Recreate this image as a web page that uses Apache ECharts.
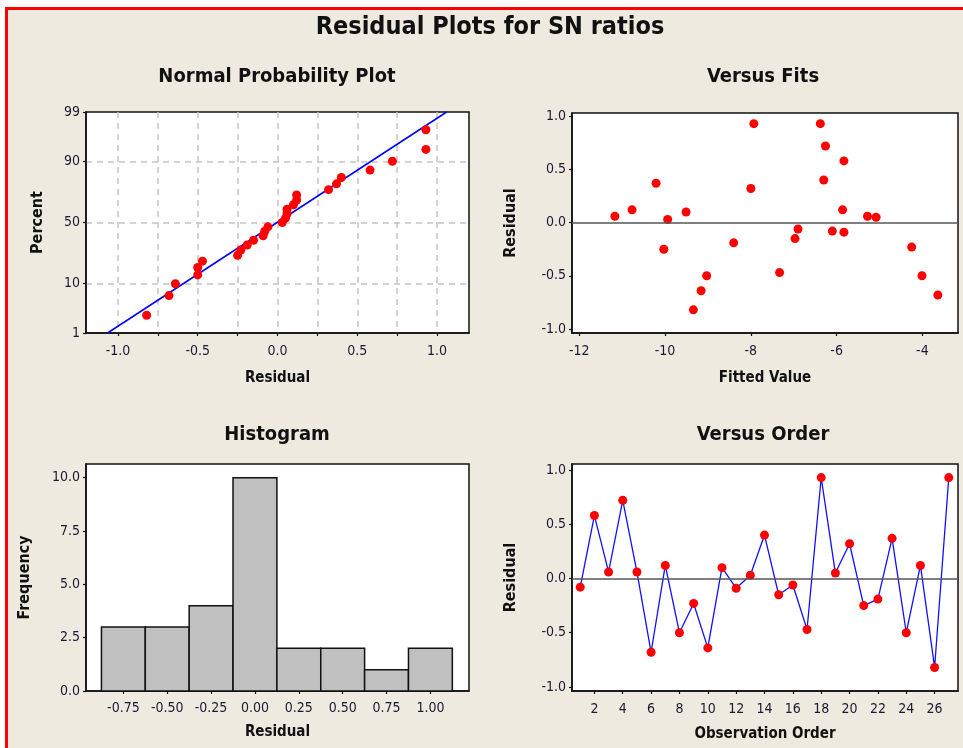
<!DOCTYPE html>
<html>
<head>
<meta charset="utf-8">
<title>Residual Plots for SN ratios</title>
<script src="https://cdn.jsdelivr.net/npm/echarts@6.0.0/dist/echarts.min.js"></script>
<style>
html, body { margin: 0; padding: 0; background: #fff; }
#main { width: 963px; height: 748px; }
</style>
</head>
<body>
<div id="main"></div>
<script>
// residuals in observation order (1..27)
const residuals = [-0.08, 0.58, 0.06, 0.72, 0.06, -0.68, 0.12, -0.50, -0.23, -0.64,
  0.10, -0.09, 0.03, 0.40, -0.15, -0.06, -0.47, 0.93, 0.05, 0.32,
  -0.25, -0.19, 0.37, -0.50, 0.12, -0.82, 0.93]
// fitted values in observation order
const fits = [-6.10, -5.83, -11.17, -6.26, -5.28, -3.64, -10.77, -9.03, -4.25, -9.16,
  -9.51, -5.83, -9.94, -6.30, -6.97, -6.90, -7.33, -7.93, -5.08, -8.00,
  -10.03, -8.40, -10.21, -4.01, -5.86, -9.34, -6.38]
// plotting positions (percent) of the sorted residuals
const probPercent = [2.55, 6.20, 9.85, 13.50, 17.15, 20.80, 24.45, 28.10, 31.75, 35.40,
  39.05, 42.70, 46.35, 50.00, 53.65, 57.30, 60.95, 64.60, 68.25, 71.90,
  75.55, 79.20, 82.85, 86.50, 90.15, 93.80, 97.45]
// fitted normal line end points [residual, percent]
const fitLine = [[-1.065, 1], [1.06, 99]]
const probTicks = [1, 10, 50, 90, 99]
const probXTicks = [-1.0, -0.5, 0.0, 0.5, 1.0]
const probXGrid = [-1.0, -0.75, -0.5, -0.25, 0.0, 0.25, 0.5, 0.75, 1.0]
// histogram
const histBins = [-0.75, -0.50, -0.25, 0.00, 0.25, 0.50, 0.75, 1.00]
const histFreq = [3, 3, 4, 10, 2, 2, 1, 2]
const histYTicks = [0, 2.5, 5, 7.5, 10]
const residTicks = [-1.0, -0.5, 0.0, 0.5, 1.0]
const fitTicks = [-12, -10, -8, -6, -4]
const orderTicks = [2, 4, 6, 8, 10, 12, 14, 16, 18, 20, 22, 24, 26]

const FONT = '"DejaVu Sans Condensed", "Liberation Sans Narrow", "DejaVu Sans", sans-serif'
const BG = '#eeeae0'
const LABEL_COLOR = '#1a1a33'
const BIN_WIDTH = 0.25

// inverse standard normal CDF (probability axis scale)
function probit(p) {
	const a = [-3.969683028665376e+01, 2.209460984245205e+02, -2.759285104469687e+02, 1.383577518672690e+02, -3.066479806614716e+01, 2.506628277459239e+00]
	const b = [-5.447609879822406e+01, 1.615858368580409e+02, -1.556989798598866e+02, 6.680131188771972e+01, -1.328068155288572e+01]
	const c = [-7.784894002430293e-03, -3.223964580411365e-01, -2.400758277161838e+00, -2.549732539343734e+00, 4.374664141464968e+00, 2.938163982698783e+00]
	const d = [7.784695709041462e-03, 3.224671290700398e-01, 2.445134137142996e+00, 3.754408661907416e+00]
	const pl = 0.02425
	let q, r
	if (p < pl) {
		q = Math.sqrt(-2 * Math.log(p))
		return (((((c[0] * q + c[1]) * q + c[2]) * q + c[3]) * q + c[4]) * q + c[5]) / ((((d[0] * q + d[1]) * q + d[2]) * q + d[3]) * q + 1)
	}
	if (p > 1 - pl) {
		q = Math.sqrt(-2 * Math.log(1 - p))
		return -(((((c[0] * q + c[1]) * q + c[2]) * q + c[3]) * q + c[4]) * q + c[5]) / ((((d[0] * q + d[1]) * q + d[2]) * q + d[3]) * q + 1)
	}
	q = p - 0.5
	r = q * q
	return (((((a[0] * r + a[1]) * r + a[2]) * r + a[3]) * r + a[4]) * r + a[5]) * q / (((((b[0] * r + b[1]) * r + b[2]) * r + b[3]) * r + b[4]) * r + 1)
}
const z = pct => probit(pct / 100)
const probZTicks = probTicks.map(z)

const sortedResiduals = residuals.slice().sort((m, n) => m - n)

const axisLine = { show: true, onZero: false, lineStyle: { color: '#111', width: 1.5 } }
const axisTick = (vals) => ({ show: true, length: 3, lineStyle: { color: '#111', width: 1.2 }, customValues: vals })
const axisLabel = (vals, fmt, margin) => ({
	show: true, customValues: vals, color: LABEL_COLOR, fontSize: 14, fontFamily: FONT, margin: margin, formatter: fmt
})
const nameStyle = { color: '#111', fontSize: 15, fontWeight: 'bold', fontFamily: FONT }
const yNameStyle = { color: '#111', fontSize: 16, fontWeight: 'bold', fontFamily: FONT }
const noSplit = { show: false }
const dashedLine = { color: '#c4c4c4', width: 1.5, type: [6, 5] }
// y grid: 1% and 99% fall on the frame, so skip them
const dashedY = { show: true, showMinLine: false, showMaxLine: false, lineStyle: dashedLine }
const dashedX = { show: true, showMinLine: true, showMaxLine: true, lineStyle: dashedLine }

const gridBase = { show: true, backgroundColor: '#fff', borderColor: '#111', borderWidth: 1.5, containLabel: false }

const chart = echarts.init(document.getElementById('main'))
chart.setOption({
	backgroundColor: BG,
	animation: false,
	textStyle: { fontFamily: FONT },
	graphic: [
		{ type: 'rect', shape: { x: 0, y: 0, width: 963, height: 7 }, style: { fill: '#fff' }, silent: true },
		{ type: 'rect', shape: { x: 0, y: 0, width: 5, height: 748 }, style: { fill: '#fff' }, silent: true },
		{ type: 'rect', shape: { x: 5, y: 7, width: 958, height: 3 }, style: { fill: '#ff0000' }, silent: true },
		{ type: 'rect', shape: { x: 5, y: 7, width: 3, height: 741 }, style: { fill: '#ff0000' }, silent: true },
		{ type: 'text', x: 490, y: 27, style: { text: 'Residual Plots for SN ratios', align: 'center', verticalAlign: 'middle', font: 'bold 25px ' + FONT, fill: '#111' } },
		{ type: 'text', x: 277, y: 77, style: { text: 'Normal Probability Plot', align: 'center', verticalAlign: 'middle', font: 'bold 20px ' + FONT, fill: '#111' } },
		{ type: 'text', x: 763, y: 77, style: { text: 'Versus Fits', align: 'center', verticalAlign: 'middle', font: 'bold 20px ' + FONT, fill: '#111' } },
		{ type: 'text', x: 277, y: 435, style: { text: 'Histogram', align: 'center', verticalAlign: 'middle', font: 'bold 20px ' + FONT, fill: '#111' } },
		{ type: 'text', x: 763, y: 435, style: { text: 'Versus Order', align: 'center', verticalAlign: 'middle', font: 'bold 20px ' + FONT, fill: '#111' } }
	],
	grid: [
		Object.assign({ left: 86, top: 112, width: 383, height: 221 }, gridBase),
		Object.assign({ left: 572, top: 113, width: 386, height: 220 }, gridBase),
		Object.assign({ left: 86, top: 464, width: 383, height: 227 }, gridBase),
		Object.assign({ left: 572, top: 464, width: 386, height: 227 }, gridBase)
	],
	xAxis: [
		{
			gridIndex: 0, type: 'value', min: -1.2, max: 1.2,
			name: 'Residual', nameLocation: 'middle', nameGap: 38, nameTextStyle: nameStyle,
			axisLine, axisTick: axisTick(probXGrid),
			axisLabel: axisLabel(probXTicks, v => v.toFixed(1), 11),
			splitLine: dashedX
		},
		{
			gridIndex: 1, type: 'value', min: -12.17, max: -3.17,
			name: 'Fitted Value', nameLocation: 'middle', nameGap: 38, nameTextStyle: nameStyle,
			axisLine, axisTick: axisTick(fitTicks),
			axisLabel: axisLabel(fitTicks, v => String(v), 11),
			splitLine: noSplit
		},
		{
			gridIndex: 2, type: 'value', min: -0.963, max: 1.22,
			name: 'Residual', nameLocation: 'middle', nameGap: 34, nameTextStyle: nameStyle,
			axisLine, axisTick: axisTick(histBins),
			axisLabel: axisLabel(histBins, v => v.toFixed(2), 10),
			splitLine: noSplit
		},
		{
			gridIndex: 3, type: 'value', min: 0.42, max: 27.65,
			name: 'Observation Order', nameLocation: 'middle', nameGap: 36, nameTextStyle: nameStyle,
			axisLine, axisTick: axisTick(orderTicks),
			axisLabel: axisLabel(orderTicks, v => String(v), 11),
			splitLine: noSplit
		}
	],
	yAxis: [
		{
			gridIndex: 0, type: 'value', min: z(1), max: z(99),
			name: 'Percent', nameLocation: 'middle', nameGap: 40, nameTextStyle: yNameStyle,
			axisLine, axisTick: axisTick(probZTicks),
			axisLabel: axisLabel(probZTicks, v => {
				let best = 0
				probZTicks.forEach((t, i) => { if (Math.abs(t - v) < Math.abs(probZTicks[best] - v)) best = i })
				return String(probTicks[best])
			}, 6),
			splitLine: dashedY
		},
		{
			gridIndex: 1, type: 'value', min: -1.0375, max: 1.03,
			name: 'Residual', nameLocation: 'middle', nameGap: 53, nameTextStyle: yNameStyle,
			axisLine, axisTick: axisTick(residTicks),
			axisLabel: axisLabel(residTicks, v => v.toFixed(1), 6),
			splitLine: noSplit
		},
		{
			gridIndex: 2, type: 'value', min: 0, max: 10.64,
			name: 'Frequency', nameLocation: 'middle', nameGap: 53, nameTextStyle: yNameStyle,
			axisLine, axisTick: axisTick(histYTicks),
			axisLabel: axisLabel(histYTicks, v => v.toFixed(1), 6),
			splitLine: noSplit
		},
		{
			gridIndex: 3, type: 'value', min: -1.037, max: 1.055,
			name: 'Residual', nameLocation: 'middle', nameGap: 53, nameTextStyle: yNameStyle,
			axisLine, axisTick: axisTick(residTicks),
			axisLabel: axisLabel(residTicks, v => v.toFixed(1), 6),
			splitLine: noSplit
		}
	],
	series: [
		{
			name: 'Fit', type: 'line', xAxisIndex: 0, yAxisIndex: 0,
			data: fitLine.map(p => [p[0], z(p[1])]),
			symbol: 'none', lineStyle: { color: '#0000ff', width: 1.5 }, z: 3
		},
		{
			name: 'Normal', type: 'scatter', xAxisIndex: 0, yAxisIndex: 0,
			data: sortedResiduals.map((r, i) => [r, z(probPercent[i])]),
			symbolSize: 9, itemStyle: { color: '#ff0000', opacity: 1 }, z: 4
		},
		{
			name: 'Zero fits', type: 'line', xAxisIndex: 1, yAxisIndex: 1, data: [], z: 2,
			markLine: { silent: true, symbol: 'none', label: { show: false }, lineStyle: { color: '#555', width: 1.5, type: 'solid' }, data: [{ yAxis: 0 }] }
		},
		{
			name: 'Versus Fits', type: 'scatter', xAxisIndex: 1, yAxisIndex: 1,
			data: fits.map((f, i) => [f, residuals[i]]),
			symbolSize: 9, itemStyle: { color: '#ff0000', opacity: 1 }, z: 4
		},
		{
			name: 'Histogram', type: 'custom', xAxisIndex: 2, yAxisIndex: 2,
			data: histBins.map((b, i) => [b, histFreq[i]]),
			renderItem: (params, api) => {
				const x = api.value(0)
				const f = api.value(1)
				const p0 = api.coord([x - BIN_WIDTH / 2, f])
				const p1 = api.coord([x + BIN_WIDTH / 2, 0])
				return {
					type: 'rect',
					shape: { x: p0[0], y: p0[1], width: p1[0] - p0[0], height: p1[1] - p0[1] },
					style: { fill: '#c0c0c0', stroke: '#111', lineWidth: 1.5 }
				}
			}
		},
		{
			name: 'Zero order', type: 'line', xAxisIndex: 3, yAxisIndex: 3, data: [], z: 1,
			markLine: { silent: true, symbol: 'none', label: { show: false }, lineStyle: { color: '#555', width: 1.5, type: 'solid' }, data: [{ yAxis: 0 }] }
		},
		{
			name: 'Versus Order', type: 'line', xAxisIndex: 3, yAxisIndex: 3,
			data: residuals.map((r, i) => [i + 1, r]),
			symbol: 'circle', symbolSize: 9, showAllSymbol: true,
			itemStyle: { color: '#ff0000' },
			lineStyle: { color: '#1010ff', width: 1.3 }, z: 4
		}
	]
})
</script>
</body>
</html>
